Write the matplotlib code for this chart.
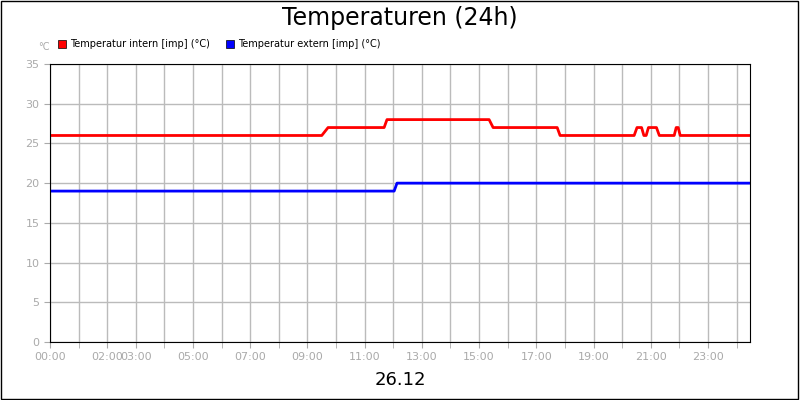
import matplotlib.pyplot as plt
from matplotlib.patches import Rectangle

# hours since 00:00 and temperature values
intern_t = [0, 9.5, 9.72, 11.68, 11.78, 15.35, 15.49, 17.73, 17.83, 20.42, 20.52,
            20.68, 20.76, 20.84, 20.92, 21.2, 21.3, 21.82, 21.89, 21.96, 22.03, 24.47]
intern_v = [26, 26, 27, 27, 28, 28, 27, 27, 26, 26, 27,
            27, 26, 26, 27, 27, 26, 26, 27, 27, 26, 26]
extern_t = [0, 12.03, 12.13, 24.47]
extern_v = [19, 19, 20, 20]
tick_hours = [0, 2, 3, 5, 7, 9, 11, 13, 15, 17, 19, 21, 23]

fig = plt.figure(figsize=(8, 4), dpi=100)
ax = fig.add_axes([50/800, 58/400, 700/800, 277/400])
ax.set_position([50/800, 1-342/400, 700/800, (342-64)/400])

ax.plot(intern_t, intern_v, color='#ff0000', lw=2)
ax.plot(extern_t, extern_v, color='#0000ff', lw=2)

ax.set_xlim(0, 24.47)
ax.set_ylim(0, 35)
ax.set_yticks(range(0, 36, 5))
ax.set_xticks(range(0, 25), minor=True)
ax.set_xticks(tick_hours)
ax.set_xticklabels(['%02d:00' % h for h in tick_hours])
ax.grid(True, which='both', color='#bbbbbb', lw=1)
ax.set_axisbelow(True)
ax.tick_params(colors='#aaaaaa', labelsize=8, length=4, which='both')
for s in ax.spines.values():
    s.set_color('black')

fig.text(0.5, 1-18/400, 'Temperaturen (24h)', ha='center', va='center', fontsize=17)
fig.text(0.5, 1-380/400, '26.12', ha='center', va='center', fontsize=13)
fig.text(38/800, 1-47/400, '°C', ha='left', va='center', fontsize=7, color='#aaaaaa')

for x0, col, lab in [(58, '#ff0000', 'Temperatur intern [imp] (°C)'),
                     (226, '#0000ff', 'Temperatur extern [imp] (°C)')]:
    fig.patches.append(Rectangle((x0/800, 1-48/400), 8/800, 8/400, transform=fig.transFigure,
                                 facecolor=col, edgecolor='black', lw=0.5))
    fig.text((x0+12)/800, 1-44/400, lab, ha='left', va='center', fontsize=7)

fig.patches.append(Rectangle((0.001, 0.002), 0.997, 0.996, transform=fig.transFigure,
                             fill=False, edgecolor='black', lw=1))
fig.savefig('out.png')
